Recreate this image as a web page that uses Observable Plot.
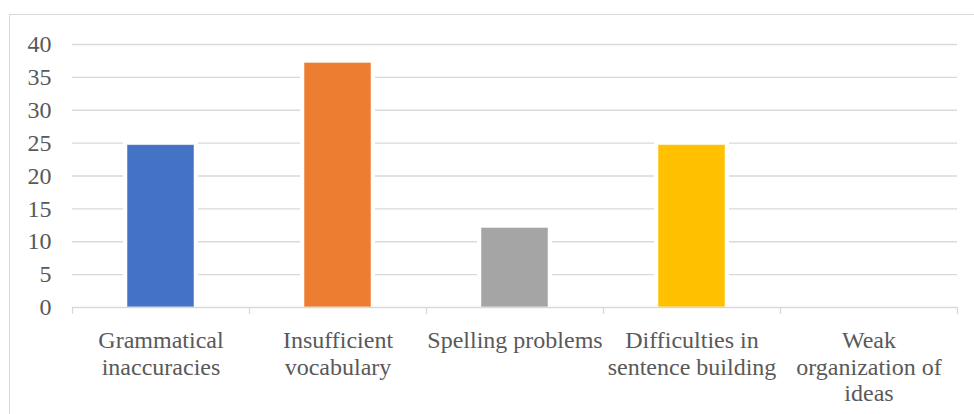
<!DOCTYPE html>
<html>
<head>
<meta charset="utf-8">
<script src="https://cdn.jsdelivr.net/npm/d3@7"></script>
<script src="https://cdn.jsdelivr.net/npm/@observablehq/plot@0.6"></script>
<style>
  html, body { margin: 0; padding: 0; background: #fff; }
  #chart { position: relative; width: 974px; height: 414px; overflow: hidden; }
  #border { position: absolute; left: 9px; top: 14px; width: 2000px; height: 2000px;
            border-left: 1.5px solid #d9d9d9; border-top: 1.5px solid #d9d9d9; box-sizing: border-box; }
  #chart svg { position: absolute; left: 0; top: 0; }
</style>
</head>
<body>
<div id="chart"><div id="border"></div></div>
<script>
// Writing difficulties reported, by category
const categories = [
  "Grammatical inaccuracies",
  "Insufficient vocabulary",
  "Spelling problems",
  "Difficulties in sentence building",
  "Weak organization of ideas"
];
const labels = [
  "Grammatical\ninaccuracies",
  "Insufficient\nvocabulary",
  "Spelling problems",
  "Difficulties in\nsentence building",
  "Weak\norganization of\nideas"
];
const values = [24.7, 37.2, 12.1, 24.7, 0];
const colors = ["#4472C4", "#ED7D31", "#A5A5A5", "#FFC000", "#5B9BD5"];
const yTicks = [0, 5, 10, 15, 20, 25, 30, 35, 40];

const data = categories.map((c, i) => ({category: c, value: values[i], color: colors[i], label: labels[i]}));

const W = 974, H = 414;
const mL = 72, mR = 17, mT = 44, mB = 107;
const step = (W - mL - mR) / categories.length;
const grid = "#d9d9d9";
const ink = "#595959";
const serif = "'Liberation Serif'";

const chart = Plot.plot({
  width: W,
  height: H,
  marginLeft: mL,
  marginRight: mR,
  marginTop: mT,
  marginBottom: mB,
  style: "font-family: 'Liberation Serif'; font-size: 24px; color: #595959; background: transparent; overflow: visible;",
  x: {domain: categories, paddingInner: 0.62, paddingOuter: 0.31, axis: null},
  y: {domain: [0, 40], axis: null},
  marks: [
    // horizontal gridlines
    Plot.ruleY(yTicks.filter(t => t > 0), {stroke: grid, strokeWidth: 1.3}),
    // white halo around each bar
    Plot.barY(data.filter(d => d.value > 0), {x: "category", y: "value", fill: "white", insetLeft: -4, insetRight: -4, insetTop: -2.5}),
    // bars
    Plot.barY(data, {x: "category", y: "value", fill: "color", stroke: "white", strokeOpacity: 0.5, strokeWidth: 1}),
    // baseline and category separators
    Plot.ruleY([0], {stroke: grid, strokeWidth: 1.3}),
    Plot.ruleX(categories, {x: d => d, dx: -step / 2, y1: 0, y2: 0, insetBottom: -7, stroke: grid, strokeWidth: 1.3}),
    Plot.ruleX(categories.slice(-1), {x: d => d, dx: step / 2, y1: 0, y2: 0, insetBottom: -7, stroke: grid, strokeWidth: 1.3}),
    // y tick labels
    Plot.text(yTicks, {y: d => d, text: d => String(d), frameAnchor: "left", dx: -21, textAnchor: "end", fill: ink, fontFamily: serif}),
    // category labels
    Plot.text(data, {x: "category", text: "label", frameAnchor: "bottom", lineAnchor: "top", dy: 22, lineHeight: 1.1, fill: ink, fontFamily: serif})
  ]
});

document.getElementById("chart").appendChild(chart);
</script>
</body>
</html>
